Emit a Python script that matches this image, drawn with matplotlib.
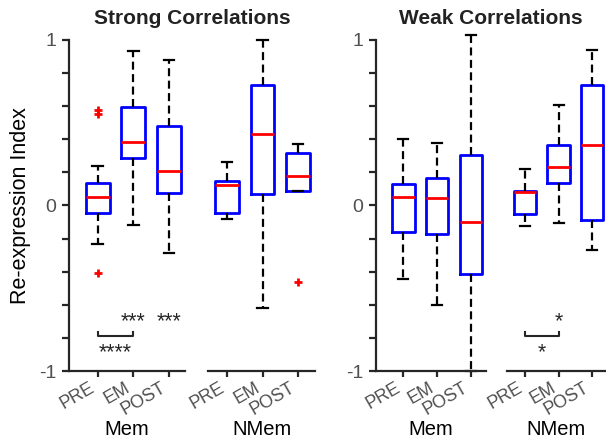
import numpy as np
import matplotlib
matplotlib.use("Agg")
import matplotlib.pyplot as plt
from matplotlib.ticker import MultipleLocator, FixedLocator
import matplotlib.transforms as mtransforms

plt.rcParams['font.family'] = ['Liberation Sans', 'DejaVu Sans']

# box stats (PRE, EM, POST)
conditions = ['PRE', 'EM', 'POST']
groups = ['Mem', 'NMem']

strong_mem_med = [0.050, 0.383, 0.210]
strong_mem_q1 = [-0.048, 0.284, 0.074]
strong_mem_q3 = [0.135, 0.596, 0.483]
strong_mem_lo = [-0.230, -0.120, -0.286]
strong_mem_hi = [0.238, 0.932, 0.882]
strong_mem_out = [[0.580, 0.550, -0.410], [], []]

strong_nmem_med = [0.121, 0.433, 0.181]
strong_nmem_q1 = [-0.044, 0.070, 0.087]
strong_nmem_q3 = [0.147, 0.727, 0.320]
strong_nmem_lo = [-0.079, -0.620, 0.087]
strong_nmem_hi = [0.260, 1.000, 0.373]
strong_nmem_out = [[], [], [-0.465]]

weak_mem_med = [0.054, 0.048, -0.097]
weak_mem_q1 = [-0.161, -0.173, -0.411]
weak_mem_q3 = [0.131, 0.169, 0.304]
weak_mem_lo = [-0.443, -0.604, -1.000]
weak_mem_hi = [0.403, 0.375, 1.033]
weak_mem_out = [[], [], []]

weak_nmem_med = [0.079, 0.231, 0.363]
weak_nmem_q1 = [-0.050, 0.133, -0.089]
weak_nmem_q3 = [0.085, 0.363, 0.731]
weak_nmem_lo = [-0.125, -0.103, -0.270]
weak_nmem_hi = [0.219, 0.608, 0.937]
weak_nmem_out = [[], [], []]

AX_COL = '#262626'
TICK_COL = '#505050'


def make_stats(med, q1, q3, lo, hi, out):
    return [dict(med=m, q1=a, q3=b, whislo=l, whishi=h, fliers=f)
            for m, a, b, l, h, f in zip(med, q1, q3, lo, hi, out)]


def draw_group(ax, stats, xlim, show_y, label):
    ax.bxp(stats, positions=[1, 2, 3], widths=0.67, capwidths=0.3,
           showfliers=True, patch_artist=False,
           boxprops=dict(color='#0000ff', lw=2.0),
           medianprops=dict(color='#ff0000', lw=2.0),
           whiskerprops=dict(color='black', lw=1.6, ls=(0, (3.6, 2.0))),
           capprops=dict(color='black', lw=1.6),
           flierprops=dict(marker='+', markeredgecolor='#ff0000',
                           markersize=6, mew=2.0, ls='none'))
    for art in ax.lines:
        art.set_clip_on(False)
    ax.set_xlim(*xlim)
    ax.set_ylim(-1, 1)
    ax.set_facecolor('none')
    for side in ['top', 'right']:
        ax.spines[side].set_visible(False)
    ax.spines['bottom'].set_linewidth(1.6)
    ax.spines['bottom'].set_color(AX_COL)
    ax.set_xticks([1, 2, 3])
    ax.set_xticklabels(conditions, rotation=30, ha='right',
                       fontsize=13, color=TICK_COL)
    off = mtransforms.ScaledTranslation(6 / 100, 0, ax.figure.dpi_scale_trans)
    for t in ax.get_xticklabels():
        t.set_transform(t.get_transform() + off)
    ax.tick_params(axis='x', length=4, width=1.6, color=AX_COL, pad=2)
    if show_y:
        ax.spines['left'].set_linewidth(1.6)
        ax.spines['left'].set_color(AX_COL)
        ax.yaxis.set_major_locator(FixedLocator([-1, 0, 1]))
        ax.set_yticklabels(['-1', '0', '1'])
        ax.yaxis.set_minor_locator(MultipleLocator(0.2))
        ax.tick_params(axis='y', which='both', length=5, width=1.6,
                       color=AX_COL, labelsize=14, labelcolor=TICK_COL, pad=4)
    else:
        ax.spines['left'].set_visible(False)
        ax.set_yticks([])
    ax.set_xlabel(label, fontsize=14.5, color='black', labelpad=1)


def bracket(ax, x0, x1, y, h=0.025):
    ax.plot([x0, x0, x1, x1], [y + h, y, y, y + h], color=AX_COL, lw=1.5,
            clip_on=False)


fig = plt.figure(figsize=(6.06, 4.44), dpi=100)
H = 444.0
W = 606.0
bot = (H - 371) / H
hgt = 331 / H

ax_sm = fig.add_axes([69 / W, bot, 116 / W, hgt])
ax_sn = fig.add_axes([208 / W, bot, 107 / W, hgt])
ax_wm = fig.add_axes([376 / W, bot, 110 / W, hgt])
ax_wn = fig.add_axes([507 / W, bot, 99 / W, hgt])

draw_group(ax_sm, make_stats(strong_mem_med, strong_mem_q1, strong_mem_q3,
                             strong_mem_lo, strong_mem_hi, strong_mem_out),
           (0.2, 3.45), True, groups[0])
draw_group(ax_sn, make_stats(strong_nmem_med, strong_nmem_q1, strong_nmem_q3,
                             strong_nmem_lo, strong_nmem_hi, strong_nmem_out),
           (0.46, 3.48), False, groups[1])
draw_group(ax_wm, make_stats(weak_mem_med, weak_mem_q1, weak_mem_q3,
                             weak_mem_lo, weak_mem_hi, weak_mem_out),
           (0.2, 3.44), True, groups[0])
draw_group(ax_wn, make_stats(weak_nmem_med, weak_nmem_q1, weak_nmem_q3,
                             weak_nmem_lo, weak_nmem_hi, weak_nmem_out),
           (0.46, 3.415), False, groups[1])

ax_sm.set_ylabel('Re-expression Index', fontsize=15.5, color='black', labelpad=6)

# significance marks
star_kw = dict(ha='center', va='center', fontsize=15.5, color=AX_COL)
ax_sm.text(2, -0.70, '***', **star_kw)
ax_sm.text(3, -0.70, '***', **star_kw)
bracket(ax_sm, 1, 2, -0.79)
ax_sm.text(1.5, -0.89, '****', **star_kw)

ax_wn.text(2, -0.70, '*', **star_kw)
bracket(ax_wn, 1, 2, -0.79)
ax_wn.text(1.5, -0.89, '*', **star_kw)

fig.text(192 / W, 1 - 18 / H, 'Strong Correlations', ha='center', va='center',
         fontsize=15, fontweight='bold', color='#222222')
fig.text(491 / W, 1 - 18 / H, 'Weak Correlations', ha='center', va='center',
         fontsize=15, fontweight='bold', color='#222222')

fig.savefig('out.png', dpi=100)
